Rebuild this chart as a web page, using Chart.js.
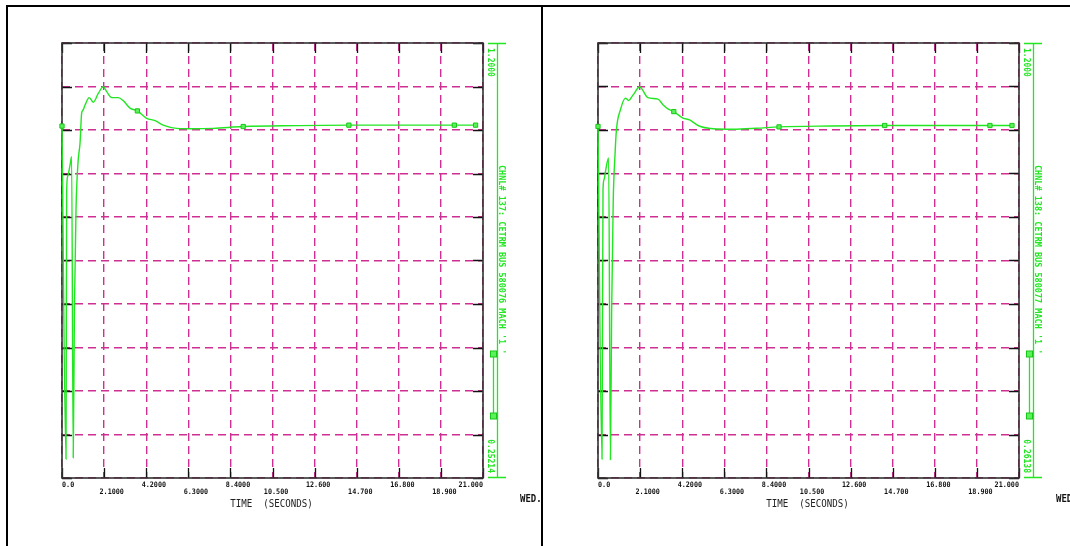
<!DOCTYPE html>
<html>
<head>
<meta charset="utf-8">
<script src="https://cdn.jsdelivr.net/npm/chart.js@4.4.0/dist/chart.umd.min.js"></script>
<style>
  html, body { margin: 0; padding: 0; background: #fff; width: 1070px; height: 546px; overflow: hidden; }
  body { position: relative; }
  .rule { position: absolute; background: #000; }
  .panel { position: absolute; top: 7px; height: 539px; overflow: hidden; }
  .panel canvas { position: absolute; left: 0; top: 0; }
</style>
</head>
<body>
<div class="rule" style="left:6px; top:5px; width:1064px; height:2px"></div>
<div class="rule" style="left:6px; top:5px; width:2px; height:541px"></div>
<div class="rule" style="left:541px; top:5px; width:2px; height:541px"></div>

<div class="panel" style="left:8px; width:533px"><canvas id="chartL" width="533" height="539"></canvas></div>
<div class="panel" style="left:543px; width:527px"><canvas id="chartR" width="527" height="539"></canvas></div>

<script>
// Time axis (seconds)
const xTickValues = [0, 2.1, 4.2, 6.3, 8.4, 10.5, 12.6, 14.7, 16.8, 18.9, 21.0];
const xTickLabels = ['0.0', '2.1000', '4.2000', '6.3000', '8.4000', '10.500', '12.600', '14.700', '16.800', '18.900', '21.000'];

// Channel 137 — CETRM BUS 580076 MACH '1 '
const timeL  = [0, 0.2, 0.23, 0.28, 0.4, 0.48, 0.56, 0.62, 0.7, 0.8, 0.9, 0.98, 1.05, 1.15, 1.36, 1.56, 1.81, 2.06, 2.23, 2.48, 2.81, 3.06, 3.39, 3.76, 4.22, 4.64, 5.05, 5.72, 6.55, 7.55, 9.04, 11.7, 14.31, 17.0, 19.57, 20.63];
const valueL = [1.019, 0.2935, 0.873, 0.909, 0.934, 0.952, 0.296, 0.62, 0.84, 0.94, 0.982, 1.047, 1.054, 1.065, 1.081, 1.071, 1.090, 1.105, 1.094, 1.081, 1.081, 1.074, 1.058, 1.052, 1.036, 1.031, 1.021, 1.014, 1.013, 1.014, 1.018, 1.020, 1.021, 1.021, 1.021, 1.021];
const symbolTimesL = [0, 3.76, 9.04, 14.31, 19.57, 20.63];
const yMaxL = 1.2, yMinL = 0.25214;
const yMaxLabelL = '1.2000', yMinLabelL = '0.25214';
const channelL = "CHNL# 137: CETRM BUS 580076 MACH '1 '";

// Channel 138 — CETRM BUS 580077 MACH '1 '
const timeR  = [0, 0.2, 0.25, 0.3, 0.4, 0.53, 0.62, 0.68, 0.76, 0.85, 0.92, 1.12, 1.37, 1.53, 1.75, 2.08, 2.49, 2.99, 3.24, 3.49, 3.78, 4.24, 4.57, 4.99, 5.74, 6.73, 7.9, 9.03, 11.6, 14.3, 17.0, 19.55, 20.65];
const valueR = [1.020, 0.302, 0.883, 0.905, 0.93, 0.952, 0.301, 0.62, 0.86, 0.96, 1.013, 1.056, 1.081, 1.076, 1.088, 1.105, 1.082, 1.079, 1.067, 1.058, 1.052, 1.038, 1.034, 1.022, 1.015, 1.014, 1.016, 1.019, 1.021, 1.022, 1.022, 1.022, 1.022];
const symbolTimesR = [0, 3.78, 9.03, 14.3, 19.55, 20.65];
const yMaxR = 1.2, yMinR = 0.26138;
const yMaxLabelR = '1.2000', yMinLabelR = '0.26138';
const channelR = "CHNL# 138: CETRM BUS 580077 MACH '1 '";

const GREEN = '#22e622';
const SYMBOL_FILL = '#5cf05c';
const SYMBOL_EDGE = '#16c816';
const GRID = '#cf2f92';
const MONO = '"DejaVu Sans Mono", "Liberation Mono", monospace';

function drawScaledText(ctx, str, x, y, sx, align) {
  ctx.save();
  ctx.translate(x, y);
  ctx.scale(sx, 1);
  ctx.textAlign = align || 'left';
  ctx.textBaseline = 'alphabetic';
  ctx.fillText(str, 0, 0);
  ctx.restore();
}

function drawVerticalText(ctx, str, x, y, align) {
  ctx.save();
  ctx.translate(x, y);
  ctx.rotate(Math.PI / 2);
  ctx.textAlign = align || 'left';
  ctx.textBaseline = 'alphabetic';
  ctx.fillText(str, 0, 0);
  ctx.restore();
}

function drawSymbol(ctx, cx, cy) {
  ctx.fillStyle = SYMBOL_FILL;
  ctx.strokeStyle = SYMBOL_EDGE;
  ctx.lineWidth = 1;
  ctx.fillRect(cx - 3, cy - 3, 6, 6);
  ctx.strokeRect(cx - 3, cy - 3, 6, 6);
}

// Axis frame, inner tick marks, tick labels and the channel annotation
const plotFrame = {
  id: 'plotFrame',
  beforeDatasetsDraw(chart) {
    const { ctx, chartArea: a, scales: { x, y } } = chart;
    ctx.save();
    ctx.strokeStyle = '#111';
    ctx.lineWidth = 1.3;
    ctx.beginPath();
    x.ticks.forEach(t => {
      const px = Math.round(x.getPixelForValue(t.value)) + 0.5;
      ctx.moveTo(px, a.top); ctx.lineTo(px, a.top + 10);
      ctx.moveTo(px, a.bottom); ctx.lineTo(px, a.bottom - 10);
    });
    y.ticks.forEach(t => {
      const py = Math.round(y.getPixelForValue(t.value)) + 0.5;
      ctx.moveTo(a.left, py); ctx.lineTo(a.left + 10, py);
      ctx.moveTo(a.right, py); ctx.lineTo(a.right - 10, py);
    });
    ctx.stroke();
    ctx.strokeStyle = '#333';
    ctx.lineWidth = 1.6;
    ctx.strokeRect(a.left, a.top, a.right - a.left, a.bottom - a.top);
    ctx.restore();
  },
  afterDraw(chart, args, opts) {
    const { ctx, chartArea: a, scales: { x } } = chart;
    ctx.save();

    // time tick labels, staggered on two rows, decimal point on the tick
    const sx = 0.9;
    ctx.fillStyle = '#111';
    ctx.font = 'bold 7.5px ' + MONO;
    x.ticks.forEach((t, i) => {
      const label = xTickLabels[i];
      const px = x.getPixelForValue(t.value);
      const w = ctx.measureText(label).width * sx;
      const intW = ctx.measureText(label.split('.')[0]).width * sx;
      let left = px - intW - 0.5;
      left = Math.max(a.left, Math.min(a.right - w, left));
      const base = a.bottom + (i % 2 === 0 ? 8.5 : 15.5);
      drawScaledText(ctx, label, left, base, sx, 'left');
    });

    // axis title
    ctx.font = '11px ' + MONO;
    ctx.fillStyle = '#222';
    drawScaledText(ctx, 'TIME  (SECONDS)', (a.left + a.right) / 2 - 1, a.bottom + 29, 0.83, 'center');

    // date stamp
    ctx.font = 'bold 10px ' + MONO;
    ctx.fillStyle = '#111';
    drawScaledText(ctx, 'WED.', a.right + 37, a.bottom + 24, 0.9, 'left');

    // channel scale bar on the right
    const axX = a.right + 14.5;
    ctx.strokeStyle = GREEN;
    ctx.lineWidth = 1.3;
    ctx.beginPath();
    ctx.moveTo(axX, a.top); ctx.lineTo(axX, a.bottom);
    ctx.moveTo(a.right + 5, a.top + 0.5); ctx.lineTo(a.right + 23, a.top + 0.5);
    ctx.moveTo(a.right + 5, a.bottom - 0.5); ctx.lineTo(a.right + 23, a.bottom - 0.5);
    const keyX = a.right + 10.5;
    ctx.moveTo(keyX, a.top + 311); ctx.lineTo(keyX, a.top + 373);
    ctx.stroke();
    drawSymbol(ctx, keyX, a.top + 311);
    drawSymbol(ctx, keyX, a.top + 373);

    ctx.fillStyle = GREEN;
    ctx.font = 'bold 8px ' + MONO;
    drawVerticalText(ctx, opts.topLabel, a.right + 5, a.top + 5, 'left');
    drawVerticalText(ctx, opts.bottomLabel, a.right + 5, a.bottom - 5, 'right');
    ctx.font = 'bold 8.5px ' + MONO;
    drawVerticalText(ctx, opts.channel, a.right + 15.5, a.top + 122, 'left');

    ctx.restore();
  }
};

function buildChart(canvasId, times, values, symbolTimes, yMin, yMax, labels, padding) {
  const points = times.map((t, i) => ({ x: t, y: values[i] }));
  const yTicks = [];
  for (let k = 0; k <= 10; k++) yTicks.push(yMin + (yMax - yMin) * k / 10);
  const isSymbol = ctx => ctx.raw && symbolTimes.includes(ctx.raw.x);

  return new Chart(document.getElementById(canvasId), {
    type: 'line',
    data: {
      datasets: [{
        data: points,
        borderColor: GREEN,
        borderWidth: 1.4,
        cubicInterpolationMode: 'monotone',
        clip: false,
        pointStyle: 'rect',
        pointRadius: ctx => isSymbol(ctx) ? 3 : 0,
        pointBackgroundColor: SYMBOL_FILL,
        pointBorderColor: SYMBOL_EDGE,
        pointBorderWidth: 1,
        fill: false
      }]
    },
    options: {
      responsive: false,
      devicePixelRatio: 1,
      animation: false,
      layout: { padding },
      plugins: {
        legend: { display: false },
        tooltip: { enabled: false },
        plotFrame: labels
      },
      scales: {
        x: {
          type: 'linear',
          min: 0,
          max: 21,
          afterBuildTicks: s => { s.ticks = xTickValues.map(v => ({ value: v })); },
          ticks: { display: false },
          grid: { color: GRID, lineWidth: 1.4, drawTicks: false },
          border: { display: false, dash: [8, 5] }
        },
        y: {
          type: 'linear',
          min: yMin,
          max: yMax,
          afterBuildTicks: s => { s.ticks = yTicks.map(v => ({ value: v })); },
          ticks: { display: false },
          grid: { color: GRID, lineWidth: 1.4, drawTicks: false },
          border: { display: false, dash: [8, 5] }
        }
      }
    },
    plugins: [plotFrame]
  });
}

buildChart('chartL', timeL, valueL, symbolTimesL, yMinL, yMaxL,
  { topLabel: yMaxLabelL, bottomLabel: yMinLabelL, channel: channelL },
  { left: 54, top: 36, right: 58, bottom: 68 });

buildChart('chartR', timeR, valueR, symbolTimesR, yMinR, yMaxR,
  { topLabel: yMaxLabelR, bottomLabel: yMinLabelR, channel: channelR },
  { left: 55, top: 36, right: 51, bottom: 68 });
</script>
</body>
</html>
